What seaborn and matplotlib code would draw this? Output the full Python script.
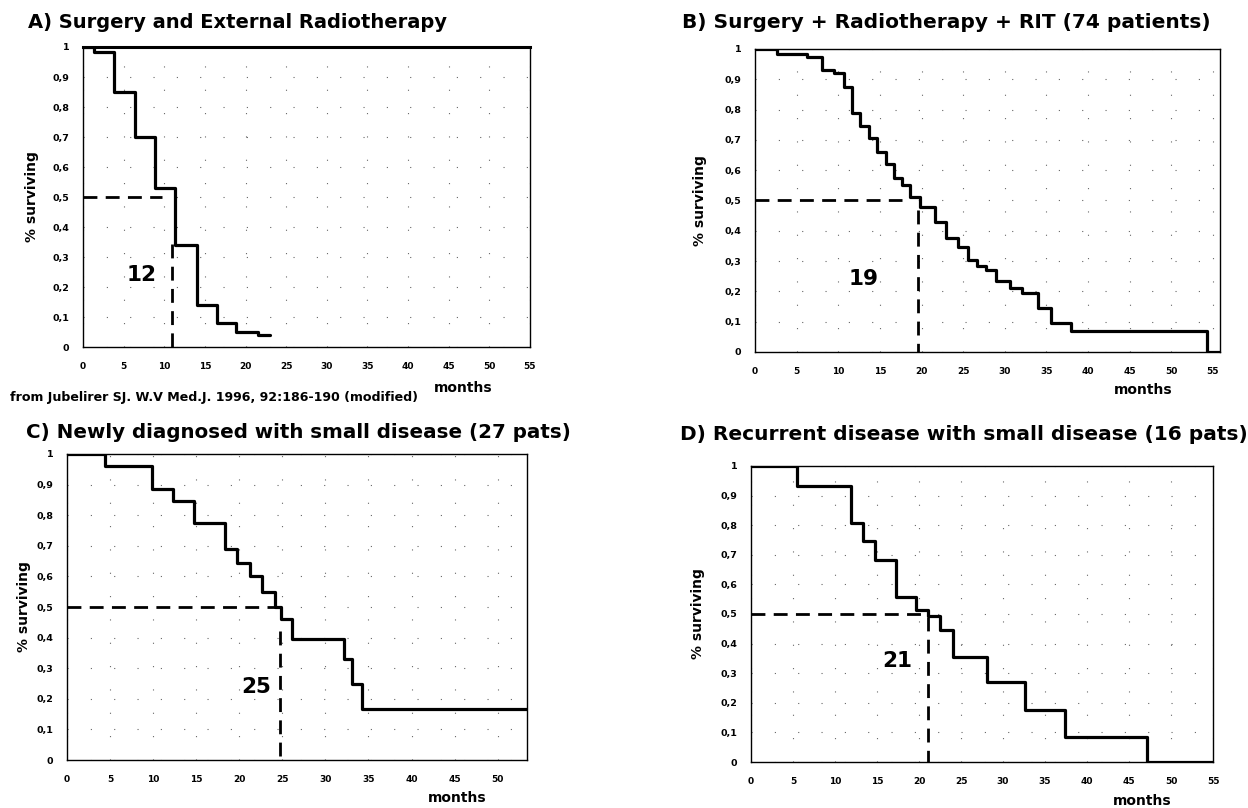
import numpy as np
import matplotlib
matplotlib.use("Agg")
import matplotlib.pyplot as plt
import seaborn as sns

sns.set_theme(style="white")
plt.rcParams["font.family"] = ["DejaVu Sans"]
plt.rcParams.update({
    "font.weight": "bold",
    "text.color": "black",
    "axes.labelcolor": "black",
    "xtick.color": "black",
    "ytick.color": "black",
})

# survival curves (time in months, fraction surviving)
a_times = [0, 1.35, 3.85, 6.35, 8.85, 11.35, 14.0, 16.5, 18.85, 21.5, 23.0]
a_surv = [1.0, 0.985, 0.85, 0.70, 0.53, 0.34, 0.14, 0.08, 0.05, 0.04, 0.04]

b_times = [0, 2.6, 6.2, 8.1, 9.5, 10.7, 11.7, 12.6, 13.7, 14.6, 15.7, 16.7, 17.6,
           18.6, 19.8, 21.6, 23.0, 24.4, 25.6, 26.7, 27.8, 29.0, 30.6, 32.1, 34.0,
           35.5, 37.9, 54.3, 55.85]
b_surv = [1.0, 0.985, 0.975, 0.93, 0.92, 0.875, 0.79, 0.745, 0.705, 0.66, 0.62,
          0.575, 0.55, 0.51, 0.48, 0.43, 0.375, 0.345, 0.305, 0.285, 0.27, 0.235,
          0.21, 0.195, 0.145, 0.095, 0.07, 0.0, 0.0]

c_times = [0, 4.45, 9.85, 12.3, 14.8, 18.3, 19.7, 21.2, 22.6, 24.1, 24.9, 26.1,
           32.1, 33.1, 34.2, 53.4]
c_surv = [1.0, 0.96, 0.886, 0.848, 0.776, 0.69, 0.643, 0.60, 0.548, 0.50, 0.46,
          0.395, 0.33, 0.248, 0.167, 0.167]

d_times = [0, 5.5, 11.9, 13.3, 14.8, 17.3, 19.7, 21.1, 22.5, 24.0, 28.1, 32.6,
           37.4, 47.2, 55.0]
d_surv = [1.0, 0.934, 0.807, 0.746, 0.682, 0.558, 0.512, 0.494, 0.445, 0.354,
          0.269, 0.177, 0.086, 0.0, 0.0]

# median survival: end of horizontal dash, x of vertical dash, top of vertical dash,
# label text and label position
medians = {
    "A": (9.7, 10.95, 0.345, "12", 7.15, 0.24),
    "B": (17.7, 19.6, 0.47, "19", 13.0, 0.24),
    "C": (24.1, 24.7, 0.42, "25", 22.0, 0.24),
    "D": (20.8, 21.06, 0.49, "21", 17.4, 0.34),
}

titles = {
    "A": "A) Surgery and External Radiotherapy",
    "B": "B) Surgery + Radiotherapy + RIT (74 patients)",
    "C": "C) Newly diagnosed with small disease (27 pats)",
    "D": "D) Recurrent disease with small disease (16 pats)",
}
source = "from Jubelirer SJ. W.V Med.J. 1996, 92:186-190 (modified)"

y_ticks = [0, 0.1, 0.2, 0.3, 0.4, 0.5, 0.6, 0.7, 0.8, 0.9, 1.0]
y_labels = ["0", "0,1", "0,2", "0,3", "0,4", "0,5", "0,6", "0,7", "0,8", "0,9", "1"]

W, H = 1248, 808
fig = plt.figure(figsize=(W / 100, H / 100), dpi=100)
renderer = fig.canvas.get_renderer()


def px_axes(left, right, top, bottom):
    return fig.add_axes([left / W, 1 - bottom / H, (right - left) / W, (bottom - top) / H])


def fit_text(x0, x1, y, s, size):
    # place text from x0 and scale its size so it ends near x1 (pixels)
    t = fig.text(x0 / W, 1 - y / H, s, fontsize=size, fontweight="bold",
                 ha="left", va="center")
    w = t.get_window_extent(renderer).width
    t.set_fontsize(size * (x1 - x0) / w)
    return t


# pixel boxes: left, right, top, bottom, xmax, last x tick
panels = {
    "A": (83, 530, 47, 347, 55.0, 55, a_times, a_surv),
    "B": (755, 1220, 49, 352, 55.85, 55, b_times, b_surv),
    "C": (67, 527, 454, 760, 53.4, 50, c_times, c_surv),
    "D": (751, 1213, 466, 762, 55.0, 55, d_times, d_surv),
}
ylabel_x = {"A": 32, "B": 700, "C": 24, "D": 698}

for key, (l, r, t, b, xmax, xlast, times, surv) in panels.items():
    ax = px_axes(l, r, t, b)
    sns.lineplot(x=times, y=surv, ax=ax, color="black", linewidth=2.3,
                 drawstyle="steps-post", estimator=None)
    ax.set_xlim(0, xmax)
    ax.set_ylim(0, 1)
    ax.set_xticks(np.arange(0, xlast + 1, 5))
    ax.set_xticklabels([str(v) for v in range(0, xlast + 1, 5)])
    ax.set_yticks(y_ticks)
    ax.set_yticklabels(y_labels)
    ax.tick_params(axis="x", labelsize=6.5, length=2, pad=9, direction="out")
    ax.tick_params(axis="y", labelsize=6.8, length=5, pad=5, direction="out")
    for lab in ax.get_xticklabels() + ax.get_yticklabels():
        lab.set_fontweight("bold")
    ax.grid(True, color="black", linestyle=(0, (1, 20)), linewidth=0.8, alpha=0.6)
    for sp in ax.spines.values():
        sp.set_color("black")
        sp.set_linewidth(1.0)
        sp.set_visible(True)
    if key == "A":
        ax.spines["top"].set_linewidth(2.2)
    ax.set_xlabel("")
    ax.set_ylabel("")
    fig.text(ylabel_x[key] / W, 1 - (t + b) / 2 / H, "% surviving", rotation=90,
             fontsize=10, fontweight="bold", ha="center", va="center")

    hx, vx, vtop, txt, tx, ty = medians[key]
    ax.plot([0, hx], [0.5, 0.5], color="black", linewidth=2, linestyle=(0, (5, 3)))
    ax.plot([vx, vx], [vtop, 0], color="black", linewidth=2, linestyle=(0, (5, 3)))
    ax.text(tx, ty, txt, fontsize=15.5, fontweight="bold", ha="center", va="center")

# titles and captions
fit_text(28, 444, 22, titles["A"], 13)
fit_text(682, 1206, 22, titles["B"], 13)
fit_text(26, 568, 433, titles["C"], 13)
fit_text(680, 1242, 434, titles["D"], 13)

for (mx, my) in [(463, 388), (1143, 390), (457, 798), (1142, 801)]:
    fig.text(mx / W, 1 - my / H, "months", fontsize=10, fontweight="bold", ha="center", va="center")

fit_text(10, 420, 398, source, 8)

fig.savefig("out.png", dpi=100, facecolor="white")
